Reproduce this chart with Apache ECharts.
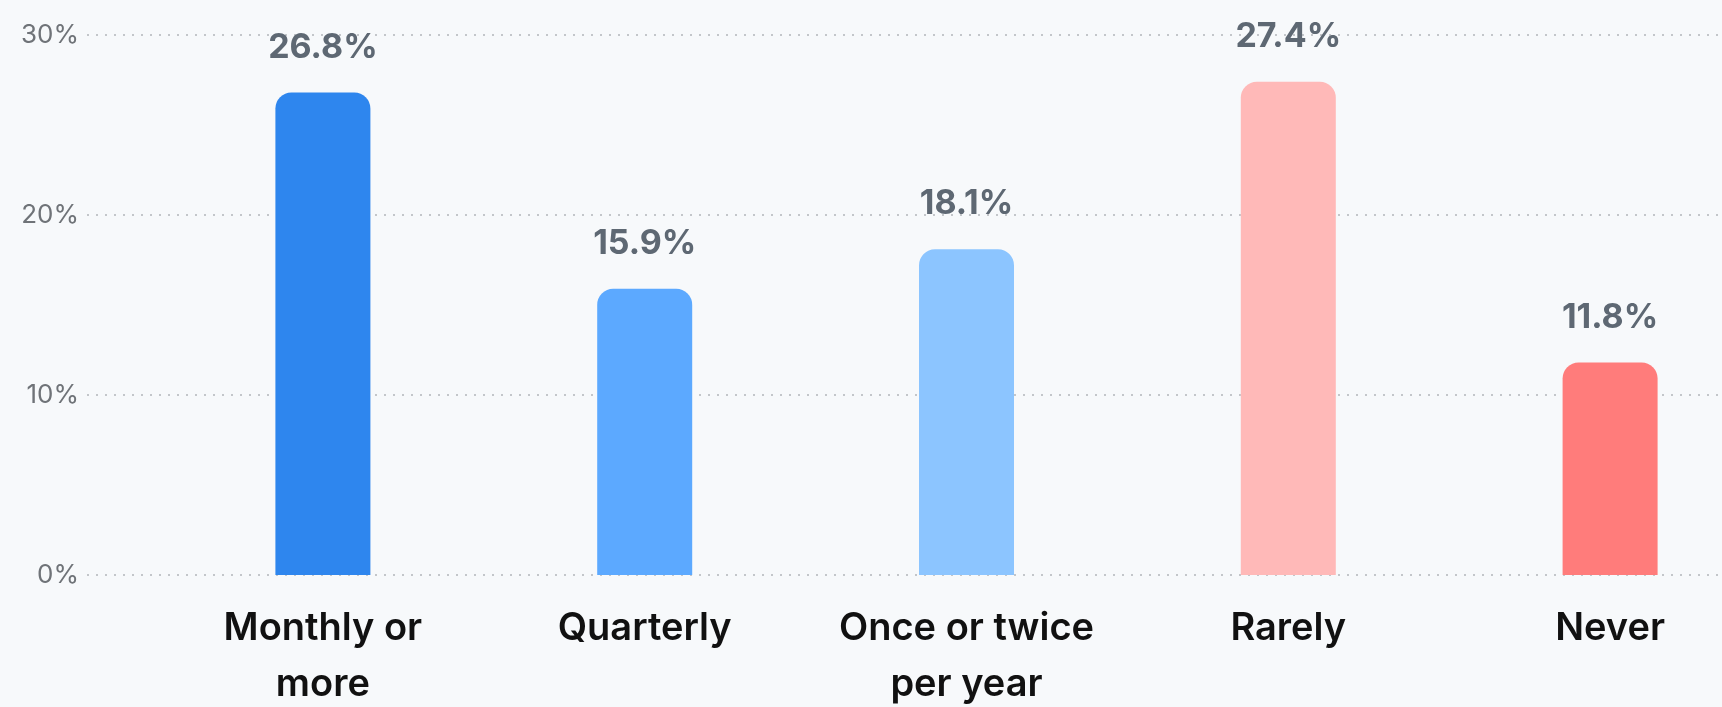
<!DOCTYPE html>
<html><head><meta charset="utf-8">
<script src="https://cdn.jsdelivr.net/npm/echarts@6/dist/echarts.min.js"></script>
<style>html,body{margin:0;padding:0;background:#f7f9fb;}#c{width:1722px;height:707px;}</style>
</head><body><div id="c"></div>
<script>
const categories = ['Monthly or\nmore', 'Quarterly', 'Once or twice\nper year', 'Rarely', 'Never'];
const values = [26.8, 15.9, 18.1, 27.4, 11.8];
const barColors = ['#2e86ee', '#5ca9ff', '#8cc5ff', '#ffb9b8', '#ff7c7b'];
const yTicks = [0, 10, 20, 30];

const chart = echarts.init(document.getElementById('c'), null, {renderer: 'canvas'});
chart.setOption({
  backgroundColor: '#f7f9fb',
  animation: false,
  grid: [
    {left: 87, right: 0, top: 35, bottom: 132, outerBoundsMode: 'none', containLabel: false},
    {left: 162, width: 1609, top: 35, bottom: 132, outerBoundsMode: 'none', containLabel: false}
  ],
  xAxis: [
    {gridIndex: 0, type: 'value', show: false, min: 0, max: 1},
    {
      gridIndex: 1, type: 'category', data: categories,
      axisLine: {show: false}, axisTick: {show: false},
      axisLabel: {
        margin: 26, color: '#111', fontFamily: 'Inter', fontWeight: 600,
        fontSize: 38, lineHeight: 56, interval: 0
      }
    }
  ],
  yAxis: [
    {
      gridIndex: 0, type: 'value', min: yTicks[0], max: yTicks[yTicks.length - 1], interval: 10,
      axisLine: {show: false}, axisTick: {show: false},
      axisLabel: {formatter: '{value}%', color: '#6f7378', fontFamily: 'Inter', fontSize: 26, margin: 8},
      splitLine: {show: true, lineStyle: {color: '#c3c6ca', width: 2, type: [2, 7]}}
    },
    {
      gridIndex: 1, type: 'value', min: yTicks[0], max: yTicks[yTicks.length - 1], interval: 10,
      show: false, splitLine: {show: false}
    }
  ],
  series: [{
    type: 'bar', xAxisIndex: 1, yAxisIndex: 1,
    barWidth: 95,
    data: values.map((v, i) => ({value: v, itemStyle: {color: barColors[i]}})),
    itemStyle: {borderRadius: [16, 16, 0, 0]},
    label: {
      show: true, position: 'top', distance: 28,
      formatter: p => p.value.toFixed(1) + '%',
      color: '#5e6873', fontFamily: 'Inter', fontWeight: 700, fontSize: 34
    }
  }]
});
</script></body></html>
